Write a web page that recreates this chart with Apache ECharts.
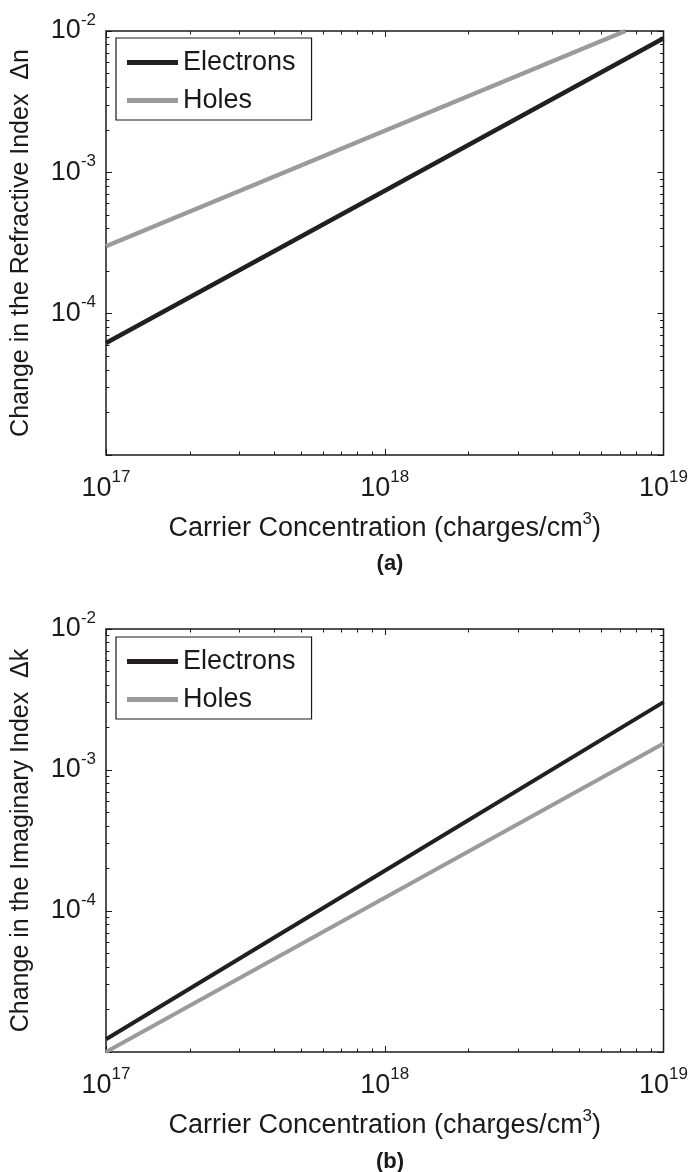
<!DOCTYPE html>
<html>
<head>
<meta charset="utf-8">
<script src="https://cdn.jsdelivr.net/npm/echarts@6/dist/echarts.min.js"></script>
<style>
html,body{margin:0;padding:0;background:#fff;}
#chart{width:691px;height:1172px;}
</style>
</head>
<body>
<div id="chart"></div>
<script>
// ---- data ----
const xMajorTicks = [1e17, 1e18, 1e19];
const xMinorTicks = [2e17,3e17,4e17,5e17,6e17,7e17,8e17,9e17,2e18,3e18,4e18,5e18,6e18,7e18,8e18,9e18];
const yMajorTicks = [1e-5, 1e-4, 1e-3, 1e-2];
const yLabelTicks = [1e-4, 1e-3, 1e-2];
const yMinorTicks = [2e-5,3e-5,4e-5,5e-5,6e-5,7e-5,8e-5,9e-5,2e-4,3e-4,4e-4,5e-4,6e-4,7e-4,8e-4,9e-4,2e-3,3e-3,4e-3,5e-3,6e-3,7e-3,8e-3,9e-3];

const concElectronsA = [1e17, 1e18, 1e19];
const dnElectrons    = [6.2e-5, 7.4e-4, 8.9e-3];
const concHolesA     = [1e17, 1e18, 7.3e18];
const dnHoles        = [3.0e-4, 1.97e-3, 1.0e-2];

const concElectronsB = [1e17, 1e18, 1e19];
const dkElectrons    = [1.23e-5, 1.93e-4, 3.03e-3];
const concHolesB     = [1e17, 1e18, 1e19];
const dkHoles        = [1.0e-5, 1.24e-4, 1.54e-3];

const seriesNames = ['Electrons', 'Holes'];
const xTitle = 'Carrier Concentration (charges/cm{s|3})';
const yTitleA = 'Change in the Refractive Index  Δn';
const yTitleB = 'Change in the Imaginary Index  Δk';
const panelLabels = ['(a)', '(b)'];

// ---- style ----
const FONT = '"Liberation Sans", Arial, Helvetica, sans-serif';
const INK = '#1a1a1a';
const C_E = '#231f20';
const C_H = '#9b9b9b';

function expLabel(v) {
  const e = Math.round(Math.log10(v));
  return '{b|10}{s|' + e + '}';
}
const labelRich = {
  b: {fontSize: 27, fontFamily: FONT, color: INK},
  s: {fontSize: 17, fontFamily: FONT, color: INK, padding: [0, 0, 22, 0]}
};

const grids = [
  {left: 106, width: 558, top: 31, height: 424},
  {left: 106, width: 558, top: 629, height: 423}
];

const xAxes = [], yAxes = [];
function addAxes(g, yTitle) {
  const base = {type: 'log', logBase: 10, gridIndex: g, min: 1e17, max: 1e19,
    axisLine: {show: false}, splitLine: {show: false}, minorTick: {show: false}};
  const ybase = {type: 'log', logBase: 10, gridIndex: g, min: 1e-5, max: 1e-2,
    axisLine: {show: false}, splitLine: {show: false}, minorTick: {show: false}};
  const tk = (vals, len) => ({show: true, inside: true, length: len, customValues: vals,
    lineStyle: {color: INK, width: 1}});
  xAxes.push(Object.assign({}, base, {
    position: 'bottom',
    axisTick: tk(xMajorTicks, 6),
    axisLabel: {show: true, customValues: xMajorTicks, formatter: expLabel, rich: labelRich, margin: 14},
    name: xTitle, nameLocation: 'middle', nameGap: 56,
    nameTextStyle: {fontSize: 27, fontFamily: FONT, color: INK,
      rich: {s: {fontSize: 17, fontFamily: FONT, color: INK, padding: [0, 0, 18, 0]}}}
  }));
  xAxes.push(Object.assign({}, base, {position: 'bottom', axisTick: tk(xMinorTicks, 3.5), axisLabel: {show: false}}));
  xAxes.push(Object.assign({}, base, {position: 'top', axisTick: tk(xMajorTicks, 6), axisLabel: {show: false}}));
  xAxes.push(Object.assign({}, base, {position: 'top', axisTick: tk(xMinorTicks, 3.5), axisLabel: {show: false}}));

  yAxes.push(Object.assign({}, ybase, {
    position: 'left',
    axisTick: tk(yMajorTicks, 6),
    axisLabel: {show: true, customValues: yLabelTicks, formatter: expLabel, rich: labelRich, margin: 10},
    name: yTitle, nameLocation: 'middle', nameGap: 72, nameRotate: 90,
    nameTextStyle: {fontSize: 25, fontFamily: FONT, color: INK}
  }));
  yAxes.push(Object.assign({}, ybase, {position: 'left', axisTick: tk(yMinorTicks, 3.5), axisLabel: {show: false}}));
  yAxes.push(Object.assign({}, ybase, {position: 'right', axisTick: tk(yMajorTicks, 6), axisLabel: {show: false}}));
  yAxes.push(Object.assign({}, ybase, {position: 'right', axisTick: tk(yMinorTicks, 3.5), axisLabel: {show: false}}));
}
addAxes(0, yTitleA);
addAxes(1, yTitleB);

function zip(xs, ys) { return xs.map((x, i) => [x, ys[i]]); }
function lineSeries(name, xi, yi, data, color, width) {
  return {name: name, type: 'line', xAxisIndex: xi, yAxisIndex: yi, data: data,
    showSymbol: false, symbol: 'none', clip: true, animation: false,
    lineStyle: {color: color, width: width}, itemStyle: {color: color}};
}

const series = [
  lineSeries(seriesNames[0], 0, 0, zip(concElectronsA, dnElectrons), C_E, 4.5),
  lineSeries(seriesNames[1], 0, 0, zip(concHolesA, dnHoles), C_H, 4.5),
  lineSeries(seriesNames[0], 4, 4, zip(concElectronsB, dkElectrons), C_E, 4),
  lineSeries(seriesNames[1], 4, 4, zip(concHolesB, dkHoles), C_H, 4)
];

function legendAt(top) {
  return {
    data: seriesNames, orient: 'vertical', left: 116, top: top,
    backgroundColor: '#fff', borderColor: INK, borderWidth: 1.2, borderRadius: 0,
    padding: [11, 16, 6, 11], itemWidth: 51, itemHeight: 26, itemGap: 11,
    selectedMode: false, symbolKeepAspect: true,
    textStyle: {fontSize: 27, fontFamily: FONT, color: INK},
    icon: 'path://M0,0L51,0L51,5L0,5Z'
  };
}

const option = {
  backgroundColor: '#fff',
  animation: false,
  grid: grids.map(g => Object.assign({show: true, borderColor: INK, borderWidth: 1.5, backgroundColor: 'transparent'}, g)),
  xAxis: xAxes,
  yAxis: yAxes,
  legend: [legendAt(38), legendAt(637)],
  title: [
    {text: panelLabels[0], left: 385, top: 548, textAlign: 'center',
      textStyle: {fontSize: 22, fontWeight: 'bold', fontFamily: FONT, color: INK}},
    {text: panelLabels[1], left: 385, top: 1146, textAlign: 'center',
      textStyle: {fontSize: 22, fontWeight: 'bold', fontFamily: FONT, color: INK}}
  ],
  series: series
};

const chart = echarts.init(document.getElementById('chart'), null, {renderer: 'canvas'});
chart.setOption(option);
</script>
</body>
</html>
